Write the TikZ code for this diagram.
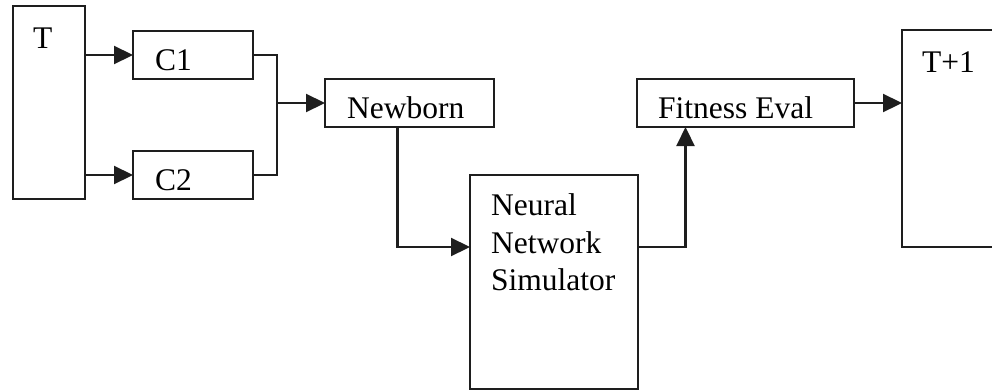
\documentclass[tikz,border=0pt]{standalone}
\usepackage{fontspec}
\setmainfont{Liberation Serif}
\usetikzlibrary{arrows.meta}
\definecolor{ink}{HTML}{1E1E1E}
\begin{document}
\begin{tikzpicture}[x=1pt,y=1pt,
  box/.style={draw=ink, line width=2.2pt, fill=white, rectangle, inner sep=0pt, outer sep=0pt, anchor=north west},
  txt/.style={inner sep=0pt, anchor=base west, font=\fontsize{31.5}{37.5}\selectfont, text=black},
  flow/.style={draw=ink, line width=2.2pt, -{Triangle[length=19pt,width=18pt]}},
  link/.style={draw=ink, line width=2.2pt}]
\useasboundingbox (0,0) rectangle (992,-391);
\clip (0,0) rectangle (992,-391);

% blocks
\node[box, minimum width=72pt,  minimum height=193pt] (T)   at (13,-6)   {};
\node[box, minimum width=120pt, minimum height=48pt]  (C1)  at (133,-31) {};
\node[box, minimum width=120pt, minimum height=48pt]  (C2)  at (133,-151) {};
\node[box, minimum width=169pt, minimum height=48pt]  (NB)  at (325,-79) {};
\node[box, minimum width=168pt, minimum height=214pt] (NNS) at (470,-175) {};
\node[box, minimum width=217pt, minimum height=48pt]  (FE)  at (637,-79) {};
\node[box, minimum width=110pt, minimum height=217pt] (T1)  at (902,-30) {};

% labels
\node[txt] (Tl)   at ([shift={(20,-42)}]T.north west)   {T};
\node[txt] (C1l)  at ([shift={(22,-39)}]C1.north west)  {C1};
\node[txt] (C2l)  at ([shift={(22,-39)}]C2.north west)  {C2};
\node[txt] (NBl)  at ([shift={(22,-39)}]NB.north west)  {Newborn};
\node[txt] (NN1)  at ([shift={(21,-40)}]NNS.north west) {Neural};
\node[txt] (NN2)  at ([shift={(21,-78)}]NNS.north west) {Network};
\node[txt] (NN3)  at ([shift={(21,-115)}]NNS.north west) {Simulator};
\node[txt] (FEl)  at ([shift={(21,-39)}]FE.north west)  {Fitness Eval};
\node[txt] (T1l)  at ([shift={(20,-42)}]T1.north west)  {T+1};

% junction where both children merge
\coordinate (J) at ([xshift=24pt]C1.east |- NB.west);

% connectors
\draw[flow] (T.east |- C1.west) -- (C1.west);
\draw[flow] (T.east |- C2.west) -- (C2.west);
\draw[link] (C1.east) -| (J);
\draw[link] (C2.east) -| (J);
\draw[flow] (J) -- (NB.west);
\draw[flow] ([xshift=-12pt]NB.south) |- ([yshift=-72pt]NNS.north west);
\draw[flow] ([yshift=-72pt]NNS.north east) -| ([xshift=-60pt]FE.south);
\draw[flow] (FE.east) -- (FE.east -| T1.west);
\end{tikzpicture}
\end{document}
